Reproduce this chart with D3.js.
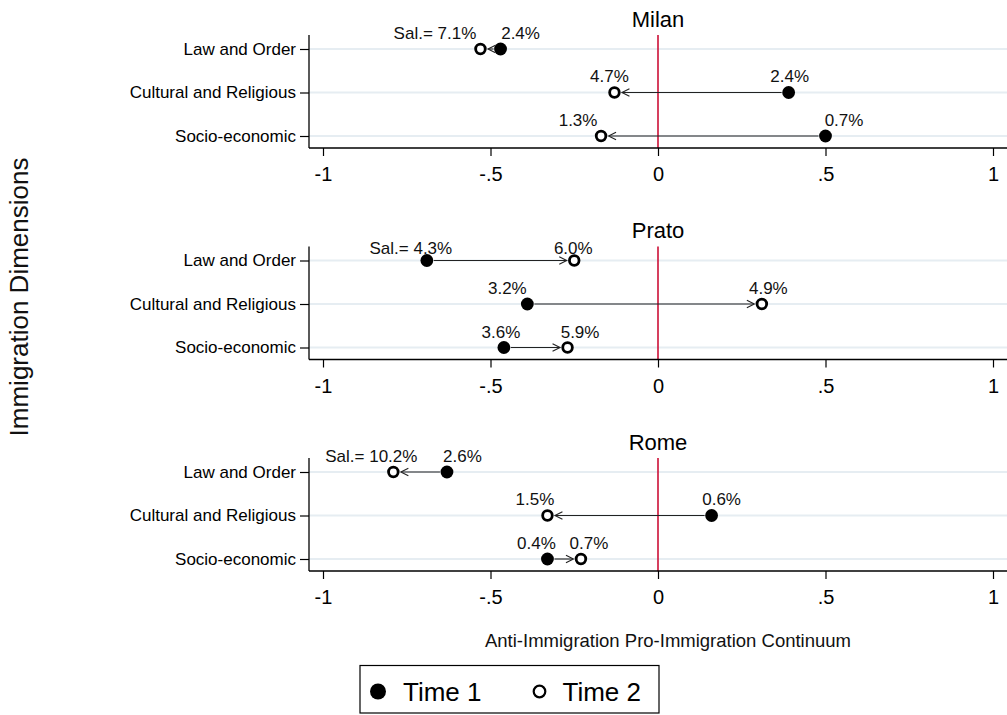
<!DOCTYPE html>
<html>
<head>
<meta charset="utf-8">
<script src="https://cdn.jsdelivr.net/npm/d3@7"></script>
<style>
  html, body { margin: 0; padding: 0; background: #fff; }
  svg { display: block; font-family: "Liberation Sans", Arial, Helvetica, sans-serif; }
</style>
</head>
<body>
<svg id="chart" width="1007" height="715"></svg>
<script>
// Immigration dimensions: position on the anti/pro-immigration continuum at two time points
const cities = ["Milan", "Prato", "Rome"];
const dimensions = ["Law and Order", "Cultural and Religious", "Socio-economic"];
const xTicks = [-1, -0.5, 0, 0.5, 1];
const xTickLabels = ["-1", "-.5", "0", ".5", "1"];
const seriesNames = ["Time 1", "Time 2"];

// Position at Time 1 and Time 2, per dimension
const milanTime1 = [-0.47, 0.39, 0.50];
const milanTime2 = [-0.53, -0.13, -0.17];
const pratoTime1 = [-0.69, -0.39, -0.46];
const pratoTime2 = [-0.25, 0.31, -0.27];
const romeTime1 = [-0.63, 0.16, -0.33];
const romeTime2 = [-0.79, -0.33, -0.23];

// Salience (%) at Time 1 and Time 2, per dimension
const milanSal1 = [2.4, 2.4, 0.7];
const milanSal2 = [7.1, 4.7, 1.3];
const pratoSal1 = [4.3, 3.2, 3.6];
const pratoSal2 = [6.0, 4.9, 5.9];
const romeSal1 = [2.6, 0.6, 0.4];
const romeSal2 = [10.2, 1.5, 0.7];

// Label placement relative to each marker (horizontal shift of the label centre, px)
const milanShift1 = [20, 1, 18.5], milanShift2 = [-45.5, -5, -23];
const pratoShift1 = [-16, -20, -3], pratoShift2 = [-1, 6.5, 12.5];
const romeShift1 = [15.5, 10, -11], romeShift2 = [-22, -12.5, 8];
// Vertical offset of the label centre above each row (px)
const milanRise = [16.5, 16.5, 16.5];
const pratoRise = [12.5, 16.5, 16];
const romeRise = [16.5, 16.5, 16.5];

const panels = [
  { t1: milanTime1, t2: milanTime2, s1: milanSal1, s2: milanSal2, d1: milanShift1, d2: milanShift2, rise: milanRise },
  { t1: pratoTime1, t2: pratoTime2, s1: pratoSal1, s2: pratoSal2, d1: pratoShift1, d2: pratoShift2, rise: pratoRise },
  { t1: romeTime1, t2: romeTime2, s1: romeSal1, s2: romeSal2, d1: romeShift1, d2: romeShift2, rise: romeRise }
];

const svg = d3.select("#chart");
const FONT_LABEL = 17, FONT_TICK = 20, FONT_TITLE = 22;
const axisLeftX = 309, plotRight = 1007;
const panelTop0 = 35, panelStep = 211.5, panelH = 113;

const x = d3.scaleLinear().domain([-1, 1]).range([323, 993]);

svg.append("defs").append("marker")
  .attr("id", "arrow")
  .attr("viewBox", "-1 -5 10 10")
  .attr("refX", 7).attr("refY", 0)
  .attr("markerWidth", 10).attr("markerHeight", 10)
  .attr("markerUnits", "userSpaceOnUse")
  .attr("orient", "auto")
  .append("path")
  .attr("d", "M0,-3.8L7.5,0L0,3.8")
  .attr("fill", "none")
  .attr("stroke", "#222")
  .attr("stroke-width", 1.1);

panels.forEach((p, i) => {
  const top = panelTop0 + i * panelStep;
  const bottom = top + panelH;
  const y = d3.scalePoint().domain(dimensions).range([top + 14, bottom - 12]);
  const g = svg.append("g");

  // grid lines
  g.selectAll("line.grid").data(dimensions).join("line")
    .attr("x1", axisLeftX).attr("x2", plotRight)
    .attr("y1", d => y(d)).attr("y2", d => y(d))
    .attr("stroke", "#e6edf2").attr("stroke-width", 2);

  // reference line at zero
  g.append("line")
    .attr("x1", x(0)).attr("x2", x(0))
    .attr("y1", top).attr("y2", bottom)
    .attr("stroke", "#cc1036").attr("stroke-width", 1.6);

  // x axis
  const xa = g.append("g").attr("transform", `translate(0,${bottom})`)
    .call(d3.axisBottom(x).tickValues(xTicks)
      .tickFormat((d, k) => xTickLabels[k]).tickSize(8).tickPadding(11));
  xa.select(".domain").remove();
  xa.selectAll(".tick line").attr("stroke", "#000").attr("stroke-width", 1.2);
  xa.selectAll(".tick text").attr("font-size", FONT_TICK).attr("fill", "#000")
    .attr("font-family", "Liberation Sans, Arial, sans-serif");
  g.append("line").attr("x1", axisLeftX).attr("x2", plotRight)
    .attr("y1", bottom).attr("y2", bottom).attr("stroke", "#000").attr("stroke-width", 1.3);

  // y axis
  const ya = g.append("g").attr("transform", `translate(${axisLeftX},0)`)
    .call(d3.axisLeft(y).tickSize(9).tickPadding(4));
  ya.select(".domain").remove();
  ya.selectAll(".tick line").attr("stroke", "#000").attr("stroke-width", 1.2);
  ya.selectAll(".tick text").attr("font-size", FONT_LABEL).attr("fill", "#000")
    .attr("font-family", "Liberation Sans, Arial, sans-serif");
  g.append("line").attr("x1", axisLeftX).attr("x2", axisLeftX)
    .attr("y1", top).attr("y2", bottom).attr("stroke", "#000").attr("stroke-width", 1.3);

  // panel title
  g.append("text").attr("x", x(0)).attr("y", top - 8.3)
    .attr("text-anchor", "middle").attr("font-size", FONT_TITLE).text(cities[i]);

  const rows = dimensions.map((d, k) => ({
    dim: d, k, t1: p.t1[k], t2: p.t2[k], s1: p.s1[k], s2: p.s2[k],
    d1: p.d1[k], d2: p.d2[k], rise: p.rise[k]
  }));

  // arrows from Time 1 to Time 2
  g.selectAll("line.arrow").data(rows).join("line")
    .attr("x1", r => x(r.t1) + Math.sign(r.t2 - r.t1) * 7)
    .attr("x2", r => x(r.t2) - Math.sign(r.t2 - r.t1) * 8)
    .attr("y1", r => y(r.dim)).attr("y2", r => y(r.dim))
    .attr("stroke", "#222").attr("stroke-width", 1.1)
    .attr("marker-end", "url(#arrow)");

  // Time 1 markers
  g.selectAll("circle.t1").data(rows).join("circle")
    .attr("cx", r => x(r.t1)).attr("cy", r => y(r.dim)).attr("r", 6.4)
    .attr("fill", "#000");

  // Time 2 markers
  g.selectAll("circle.t2").data(rows).join("circle")
    .attr("cx", r => x(r.t2)).attr("cy", r => y(r.dim)).attr("r", 4.8)
    .attr("fill", "#fff").attr("stroke", "#000").attr("stroke-width", 2.8);

  // salience labels; the leftmost label of the first row carries the "Sal.=" prefix
  const labels = [];
  rows.forEach(r => {
    const leftIs1 = r.t1 < r.t2;
    labels.push({ v: r.t1, s: r.s1, dx: r.d1, dim: r.dim, rise: r.rise, prefix: r.k === 0 && leftIs1 });
    labels.push({ v: r.t2, s: r.s2, dx: r.d2, dim: r.dim, rise: r.rise, prefix: r.k === 0 && !leftIs1 });
  });
  g.selectAll("text.lab").data(labels).join("text")
    .attr("x", l => x(l.v) + l.dx)
    .attr("y", l => y(l.dim) - l.rise + 6)
    .attr("text-anchor", "middle").attr("font-size", FONT_LABEL).attr("fill", "#111")
    .text(l => (l.prefix ? "Sal.= " : "") + l.s.toFixed(1) + "%");
});

// axis titles
svg.append("text")
  .attr("transform", "translate(28,297) rotate(-90)")
  .attr("text-anchor", "middle").attr("font-size", 26).attr("fill", "#111")
  .text("Immigration Dimensions");

svg.append("text").attr("x", 668).attr("y", 646.7)
  .attr("text-anchor", "middle").attr("font-size", 18.5).attr("fill", "#111")
  .text("Anti-Immigration Pro-Immigration Continuum");

// legend
const lg = svg.append("g");
lg.append("rect").attr("x", 360).attr("y", 665.5).attr("width", 299).attr("height", 47.5)
  .attr("fill", "#fff").attr("stroke", "#000").attr("stroke-width", 1.2);
const legendItems = [
  { name: seriesNames[0], cx: 378, tx: 403, open: false },
  { name: seriesNames[1], cx: 539.5, tx: 562.5, open: true }
];
lg.selectAll("circle").data(legendItems).join("circle")
  .attr("cx", d => d.cx).attr("cy", 691.5)
  .attr("r", d => d.open ? 5.8 : 8)
  .attr("fill", d => d.open ? "#fff" : "#000")
  .attr("stroke", "#000").attr("stroke-width", d => d.open ? 2.2 : 0);
lg.selectAll("text").data(legendItems).join("text")
  .attr("x", d => d.tx).attr("y", 701)
  .attr("font-size", 26).attr("fill", "#000")
  .text(d => d.name);
</script>
</body>
</html>
